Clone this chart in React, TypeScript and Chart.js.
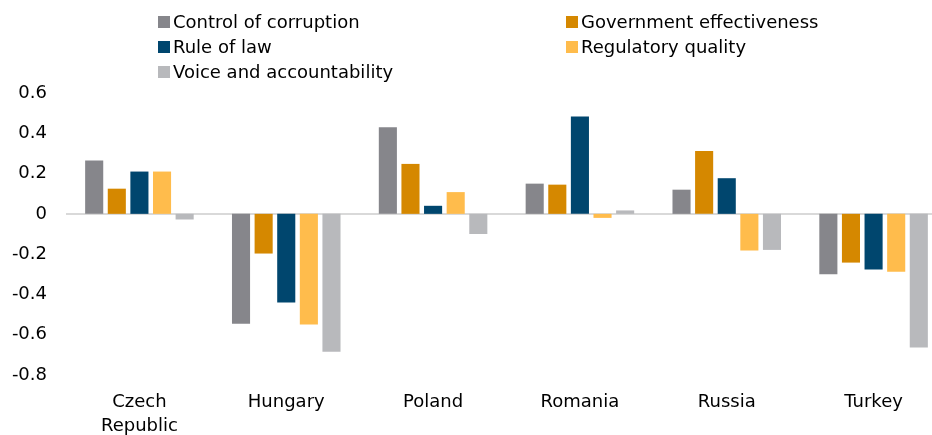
import React, { useEffect, useRef } from "react";
import { Chart, registerables } from "chart.js";

Chart.register(...registerables);

const categories: (string | string[])[] = [["Czech", "Republic"], "Hungary", "Poland", "Romania", "Russia", "Turkey"];
const seriesNames = [
  "Control of corruption",
  "Government effectiveness",
  "Rule of law",
  "Regulatory quality",
  "Voice and accountability",
];
const seriesColors = ["#86868B", "#D58800", "#00466E", "#FFBC4C", "#B8B9BC"];
const controlOfCorruption = [0.265, -0.545, 0.43, 0.15, 0.12, -0.3];
const governmentEffectiveness = [0.125, -0.197, 0.248, 0.145, 0.312, -0.242];
const ruleOfLaw = [0.21, -0.44, 0.04, 0.483, 0.177, -0.276];
const regulatoryQuality = [0.21, -0.549, 0.108, -0.02, -0.182, -0.288];
const voiceAndAccountability = [-0.028, -0.684, -0.1, 0.017, -0.179, -0.664];
const yMin = -0.8;
const yMax = 0.6;
const yStep = 0.2;

const FONT = "'DejaVu Sans', Arial, sans-serif";

const legendPlugin = {
  id: "twoColLegend",
  afterDraw(chart: any) {
    const ctx = chart.ctx;
    const cols = [158, 566];
    const rows = [22, 47, 72];
    ctx.save();
    ctx.font = `18px ${FONT}`;
    ctx.textBaseline = "middle";
    ctx.textAlign = "left";
    chart.data.datasets.forEach((ds: any, i: number) => {
      const x = cols[i % 2];
      const y = rows[Math.floor(i / 2)];
      ctx.fillStyle = ds.backgroundColor;
      ctx.fillRect(x, y - 6, 12, 12);
      ctx.fillStyle = "#000000";
      ctx.fillText(ds.label, x + 15, y + 1);
    });
    ctx.restore();
  },
};

export default function App() {
  const ref = useRef<HTMLCanvasElement>(null);
  useEffect(() => {
    document.body.style.margin = "0";
    const values = [controlOfCorruption, governmentEffectiveness, ruleOfLaw, regulatoryQuality, voiceAndAccountability];
    const chart = new Chart(ref.current!, {
      type: "bar",
      data: {
        labels: categories,
        datasets: values.map((v, i) => ({
          label: seriesNames[i],
          data: v,
          backgroundColor: seriesColors[i],
          borderWidth: 0,
          categoryPercentage: 0.77,
          barPercentage: 0.8,
        })),
      },
      options: {
        responsive: false,
        animation: false,
        layout: { padding: { top: 93, left: 0, right: 0, bottom: 0 } },
        plugins: { legend: { display: false }, tooltip: { enabled: false } },
        scales: {
          x: {
            grid: { display: false },
            border: { display: false },
            ticks: { color: "#000", font: { family: FONT, size: 18, lineHeight: 1.3 }, padding: 8, maxRotation: 0, autoSkip: false },
            afterFit: (s: any) => { s.height = 60; },
          },
          y: {
            min: yMin,
            max: yMax,
            border: { display: false },
            grid: {
              drawTicks: false,
              color: (c: any) => (c.tick && Math.abs(c.tick.value) < 1e-9 ? "#D9D9D9" : "rgba(0,0,0,0)"),
              lineWidth: (c: any) => (c.tick && Math.abs(c.tick.value) < 1e-9 ? 2 : 0),
            },
            ticks: {
              stepSize: yStep,
              color: "#000",
              font: { family: FONT, size: 18 },
              padding: 19,
              callback: (v: any) => String(Math.round(Number(v) * 10) / 10),
            },
            afterFit: (s: any) => { s.width = 66; },
          },
        },
      },
      plugins: [legendPlugin],
    });
    return () => chart.destroy();
  }, []);
  return (
    <div style={{ width: 932, height: 435, overflow: "hidden", background: "#fff" }}>
      <canvas ref={ref} width={947} height={435} style={{ display: "block" }} />
    </div>
  );
}
